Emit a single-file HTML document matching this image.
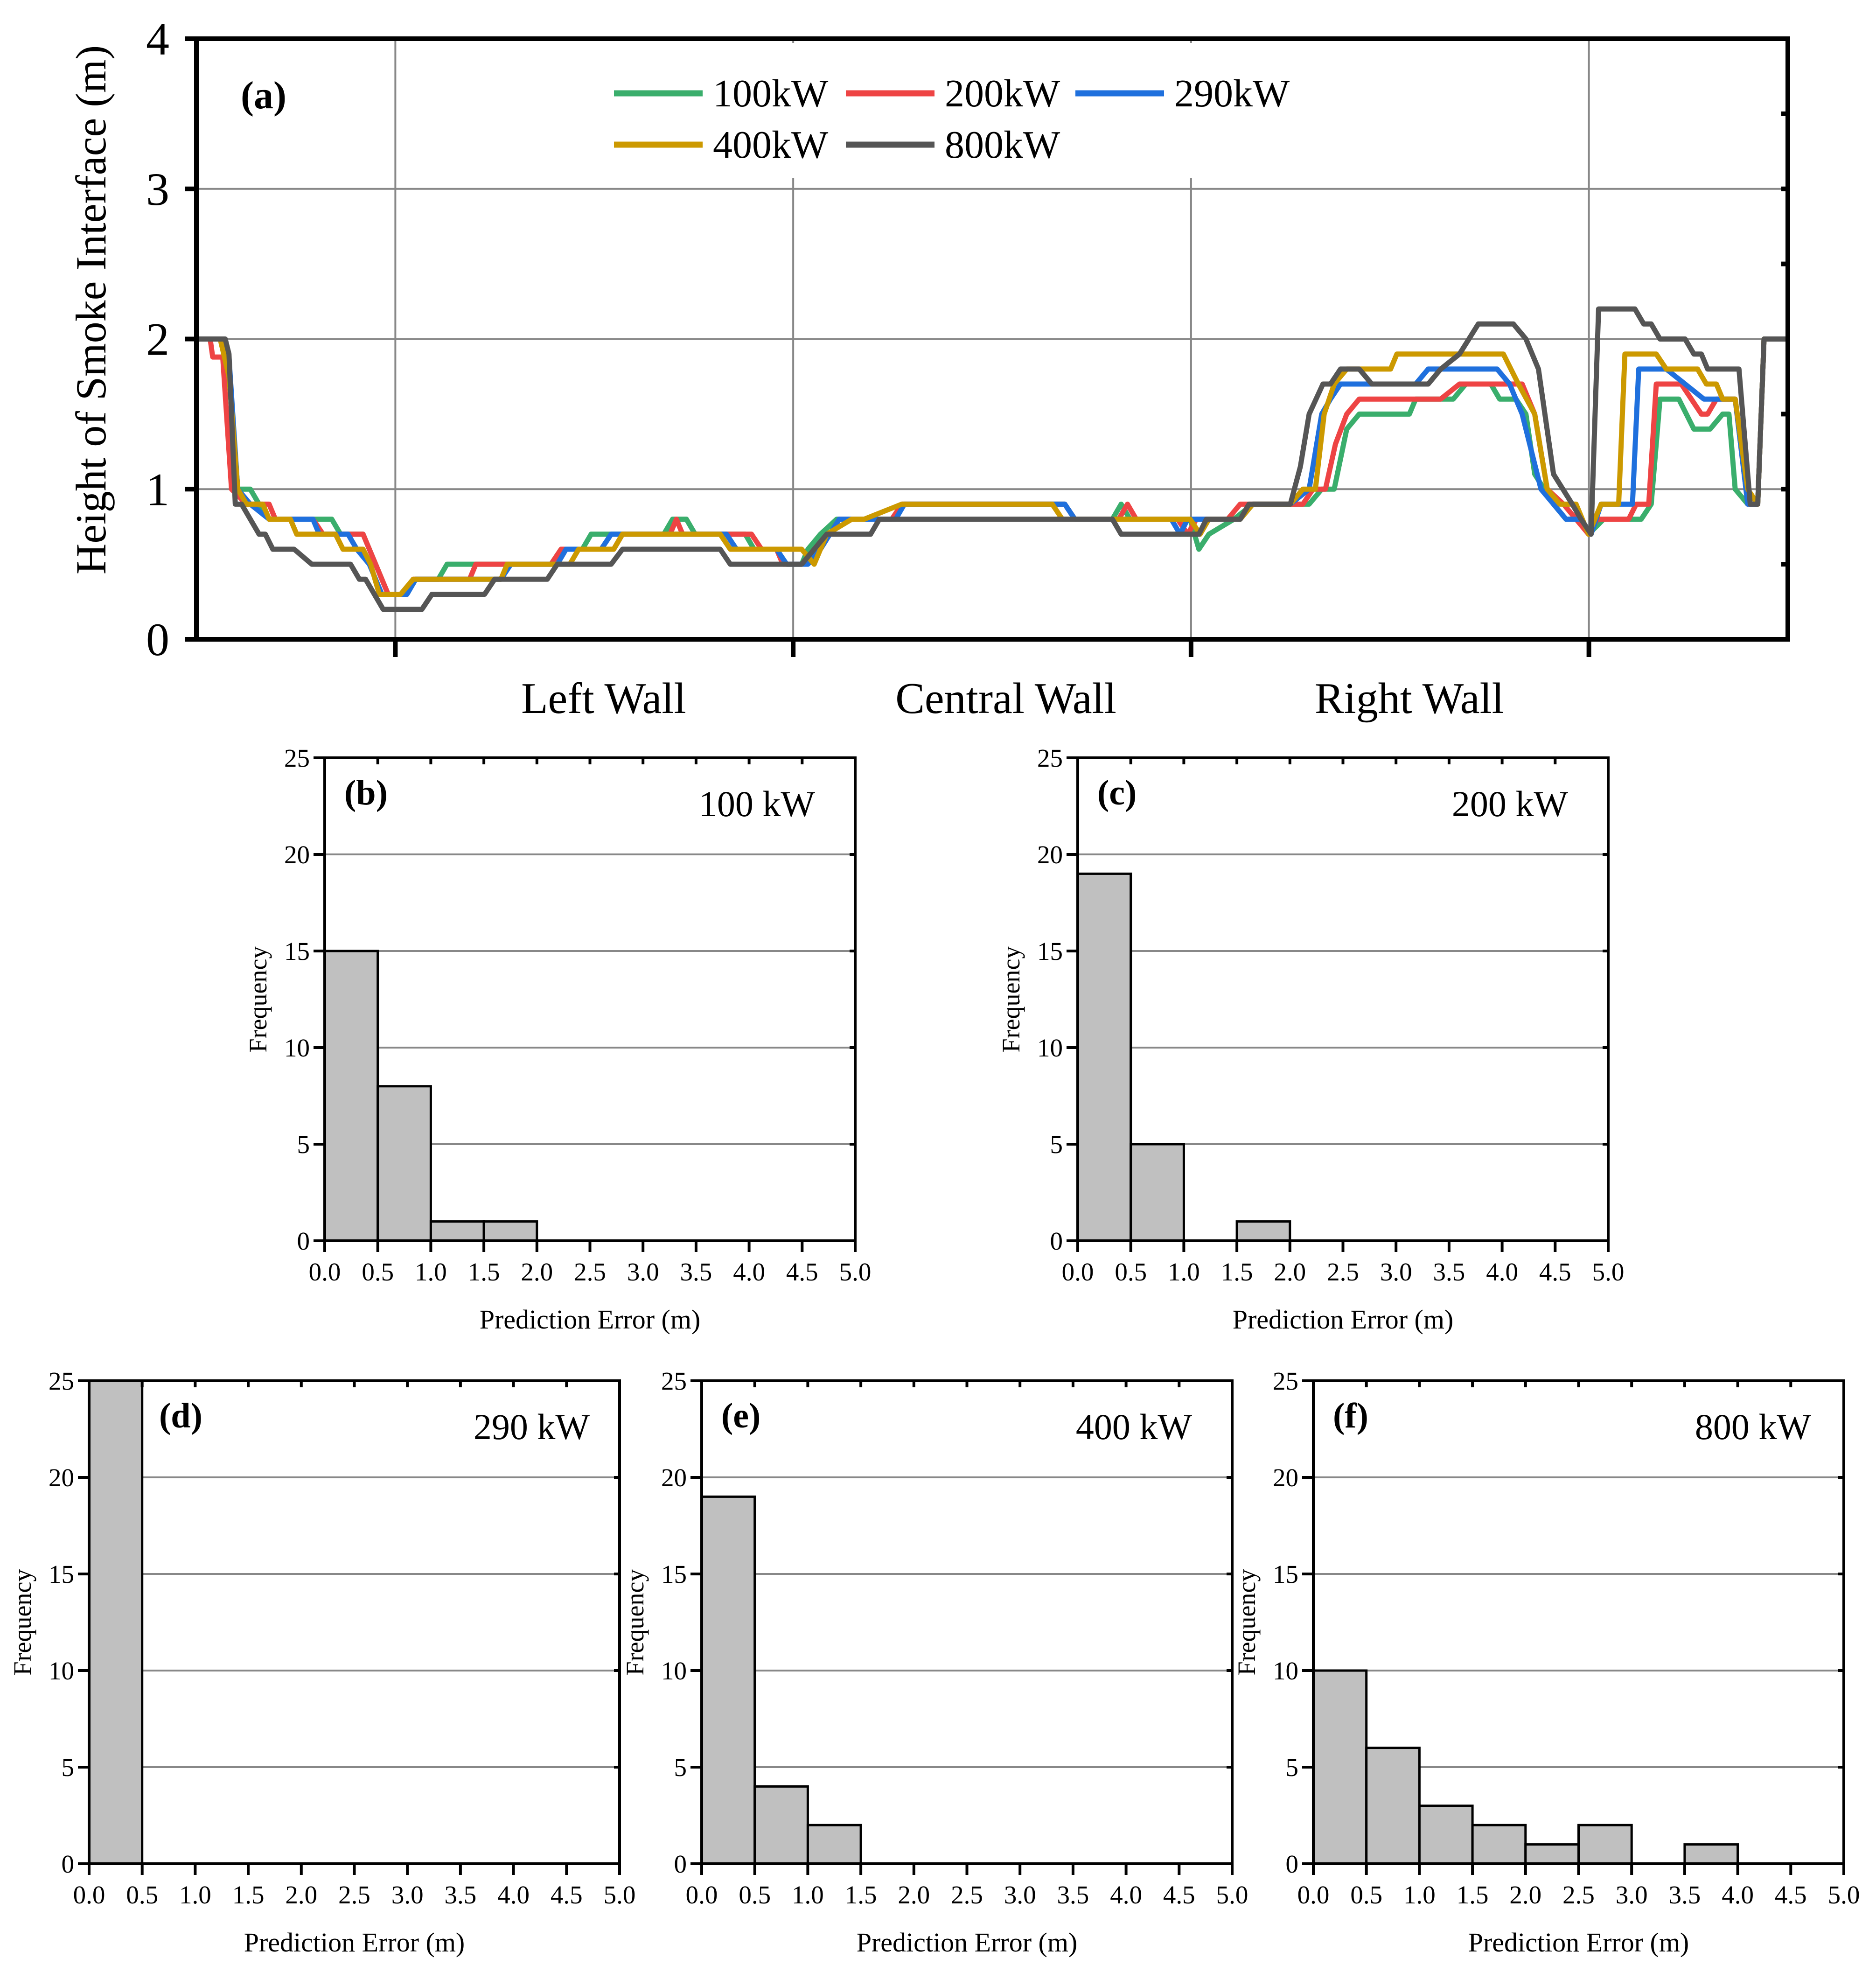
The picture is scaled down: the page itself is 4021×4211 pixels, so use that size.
<!DOCTYPE html>
<html><head><meta charset="utf-8">
<style>
html,body{margin:0;padding:0;background:#fff;}
svg{display:block;font-family:"Liberation Serif","Times New Roman",serif;}
</style></head>
<body>
<svg id="fig" width="4021" height="4211" viewBox="0 0 4021 4211" xmlns="http://www.w3.org/2000/svg">
<rect x="0" y="0" width="4021" height="4211" fill="#fff"/>
</svg>
<script>
// ---------- data: panel (a) ----------
// x = position along walls (arbitrary distance units, 0..1270), y = height (m)
const s100 = [[0,2],[19,2],[26,1.83],[33,1.0],[43,1.0],[50,0.9],[58,0.8],[108,0.8],[115,0.7],[133,0.7],[143,0.5],[153,0.3],[168,0.3],[175,0.4],[193,0.4],[200,0.5],[283,0.5],[291,0.6],[308,0.6],[315,0.7],[373,0.7],[380,0.8],[391,0.8],[398,0.7],[438,0.7],[445,0.6],[463,0.6],[471,0.5],[483,0.5],[488,0.6],[498,0.7],[511,0.8],[555,0.8],[563,0.9],[693,0.9],[701,0.8],[731,0.8],[738,0.9],[745,0.8],[793,0.8],[800,0.6],[808,0.7],[828,0.8],[843,0.9],[888,0.9],[898,1.0],[908,1.0],[918,1.4],[928,1.5],[968,1.5],[973,1.6],[1003,1.6],[1013,1.7],[1033,1.7],[1040,1.6],[1053,1.6],[1061,1.5],[1068,1.1],[1083,0.9],[1093,0.8],[1105,0.8],[1111,0.7],[1123,0.8],[1153,0.8],[1161,0.9],[1168,1.6],[1183,1.6],[1195,1.4],[1208,1.4],[1218,1.5],[1223,1.5],[1228,1.0],[1238,0.9],[1246,0.9],[1251,2.0],[1270,2.0]];
const s200 = [[0,2],[11,2],[13,1.88],[21,1.88],[28,1.0],[40,0.9],[58,0.9],[63,0.8],[93,0.8],[101,0.7],[133,0.7],[143,0.5],[153,0.3],[168,0.3],[173,0.4],[218,0.4],[223,0.5],[283,0.5],[291,0.6],[333,0.6],[340,0.7],[378,0.7],[383,0.8],[388,0.7],[443,0.7],[451,0.6],[463,0.6],[468,0.5],[483,0.5],[498,0.6],[513,0.8],[555,0.8],[563,0.9],[693,0.9],[701,0.8],[736,0.8],[743,0.9],[750,0.8],[783,0.8],[791,0.7],[798,0.8],[823,0.8],[833,0.9],[883,0.9],[891,1.0],[901,1.0],[909,1.3],[918,1.5],[928,1.6],[993,1.6],[1008,1.7],[1058,1.7],[1068,1.5],[1078,1.0],[1091,0.9],[1101,0.8],[1111,0.7],[1118,0.8],[1143,0.8],[1149,0.9],[1159,0.9],[1165,1.7],[1185,1.7],[1193,1.6],[1201,1.5],[1206,1.5],[1213,1.6],[1228,1.6],[1238,0.9],[1246,0.9],[1251,2.0],[1270,2.0]];
const s290 = [[0,2],[19,2],[26,1.88],[33,1.0],[43,0.9],[58,0.8],[93,0.8],[98,0.7],[121,0.7],[128,0.6],[138,0.5],[148,0.3],[168,0.3],[175,0.4],[243,0.4],[251,0.5],[288,0.5],[295,0.6],[323,0.6],[331,0.7],[423,0.7],[431,0.6],[463,0.6],[471,0.5],[488,0.5],[498,0.6],[513,0.8],[558,0.8],[565,0.9],[693,0.9],[701,0.8],[778,0.8],[785,0.7],[791,0.8],[833,0.8],[843,0.9],[873,0.9],[888,1.0],[898,1.5],[905,1.6],[913,1.7],[973,1.7],[983,1.8],[1038,1.8],[1048,1.7],[1058,1.5],[1073,1.0],[1083,0.9],[1093,0.8],[1105,0.8],[1113,0.7],[1121,0.9],[1146,0.9],[1151,1.8],[1173,1.8],[1188,1.7],[1203,1.6],[1228,1.6],[1238,0.9],[1246,0.9],[1251,2.0],[1270,2.0]];
const s400 = [[0,2],[19,2],[26,1.75],[33,1.0],[40,0.9],[53,0.9],[58,0.8],[75,0.8],[80,0.7],[111,0.7],[117,0.6],[133,0.6],[139,0.5],[146,0.3],[163,0.3],[173,0.4],[243,0.4],[248,0.5],[298,0.5],[305,0.6],[333,0.6],[340,0.7],[418,0.7],[426,0.6],[483,0.6],[493,0.5],[503,0.7],[523,0.8],[533,0.8],[563,0.9],[683,0.9],[691,0.8],[793,0.8],[801,0.7],[808,0.8],[833,0.8],[843,0.9],[873,0.9],[883,1.0],[893,1.0],[900,1.5],[908,1.7],[918,1.8],[953,1.8],[958,1.9],[1043,1.9],[1055,1.7],[1068,1.5],[1078,1.0],[1088,0.9],[1101,0.9],[1111,0.7],[1121,0.9],[1135,0.9],[1140,1.9],[1165,1.9],[1173,1.8],[1198,1.8],[1205,1.7],[1213,1.7],[1218,1.6],[1228,1.6],[1238,1.0],[1246,0.9],[1251,2.0],[1270,2.0]];
const s800 = [[0,2],[23,2],[26,1.9],[31,0.9],[36,0.9],[43,0.8],[50,0.7],[55,0.7],[61,0.6],[78,0.6],[92,0.5],[123,0.5],[130,0.4],[135,0.4],[149,0.2],[180,0.2],[188,0.3],[230,0.3],[238,0.4],[280,0.4],[288,0.5],[331,0.5],[340,0.6],[418,0.6],[426,0.5],[483,0.5],[493,0.6],[503,0.7],[538,0.7],[545,0.8],[731,0.8],[738,0.7],[800,0.7],[806,0.8],[833,0.8],[840,0.9],[873,0.9],[881,1.15],[888,1.5],[899,1.7],[905,1.7],[913,1.8],[928,1.8],[938,1.7],[983,1.7],[993,1.8],[1008,1.9],[1023,2.1],[1051,2.1],[1061,2.0],[1071,1.8],[1083,1.1],[1098,0.9],[1105,0.8],[1113,0.7],[1119,2.2],[1148,2.2],[1155,2.1],[1161,2.1],[1168,2.0],[1188,2.0],[1195,1.9],[1201,1.9],[1206,1.8],[1231,1.8],[1240,0.9],[1246,0.9],[1251,2.0],[1270,2.0]];
const seriesNames = ["100kW","200kW","290kW","400kW","800kW"];
const seriesColors = ["#3aae6c","#ee4444","#1f70dd","#cc9900","#555555"];
const wallLabels = ["Left Wall","Central Wall","Right Wall"];
const wallCenters = [325,646,968];
const yTicksA = [0,1,2,3,4];
const xGridA = [158.75,476.25,793.75,1111.25];

// ---------- data: histograms ----------
const binEdges = [0,0.5,1,1.5,2,2.5,3,3.5,4,4.5,5];
const xTickLabels = ["0.0","0.5","1.0","1.5","2.0","2.5","3.0","3.5","4.0","4.5","5.0"];
const yTicksH = [0,5,10,15,20,25];
const histB = [15,8,1,1,0,0,0,0,0,0];
const histC = [19,5,0,1,0,0,0,0,0,0];
const histD = [25,0,0,0,0,0,0,0,0,0];
const histE = [19,4,2,0,0,0,0,0,0,0];
const histF = [10,6,3,2,1,2,0,1,0,0];
const panelIds = ["(b)","(c)","(d)","(e)","(f)"];
const panelPowers = ["100 kW","200 kW","290 kW","400 kW","800 kW"];

const NS = "http://www.w3.org/2000/svg";
const svg = document.getElementById("fig");
function mk(tag, attrs, parent){
  const e = document.createElementNS(NS, tag);
  for (const k in attrs) e.setAttribute(k, attrs[k]);
  (parent||svg).appendChild(e);
  return e;
}

// ---------- panel (a) ----------
const A = {l:421, r:3832, t:83, b:1370, xmax:1270, ymax:4};
const ax = v => A.l + v/A.xmax*(A.r-A.l);
const ay = v => A.b - v/A.ymax*(A.b-A.t);
const gA = mk("g",{});


yTicksA.forEach(v=>{
  if(v>0 && v<4){
    const gl = mk("line",{x1:A.l,x2:A.r,y1:ay(v),y2:ay(v),stroke:"#888",'stroke-width':4},gA);
    
    
  }
  const t = mk("text",{x:A.l-58,y:ay(v)+34,'font-size':100,'text-anchor':'end'},gA);
  t.textContent = v;
  
  
  const tk = mk("line",{x1:A.l-25,x2:A.l,y1:ay(v),y2:ay(v),stroke:"#000",'stroke-width':10},gA);
  
  
});
[0.5,1,1.5,2,2.5,3,3.5].forEach(v=>{
  const tk = mk("line",{x1:A.r-14,x2:A.r,y1:ay(v),y2:ay(v),stroke:"#000",'stroke-width':10},gA);
  
  
});
xGridA.forEach(v=>{
  const gl = mk("line",{x1:ax(v),x2:ax(v),y1:A.t,y2:A.b,stroke:"#888",'stroke-width':4},gA);
  
  
  const tk = mk("line",{x1:ax(v),x2:ax(v),y1:A.b,y2:A.b+38,stroke:"#000",'stroke-width':10},gA);
  
  
});
const lbg = mk("rect",{x:1290,y:92,width:1500,height:290,fill:"#fff"},gA);


[s100,s200,s290,s400,s800].forEach((s,i)=>{
  const p = mk("polyline",{points:s.map(d=>ax(d[0]).toFixed(1)+","+ay(d[1]).toFixed(1)).join(" "),fill:"none",stroke:seriesColors[i],'stroke-width':11,'stroke-linejoin':'round'},gA);
  
  
});
const fA = mk("rect",{x:A.l,y:A.t,width:A.r-A.l,height:A.b-A.t,fill:"none",stroke:"#000",'stroke-width':10},gA);


const legPos = [[1316,200],[1813,200],[2305,200],[1316,310],[1813,310]];
seriesNames.forEach((n,i)=>{
  const g = mk("g",{},gA);
  
  
  const [lx,ly] = legPos[i];
  mk("line",{x1:lx,x2:lx+190,y1:ly,y2:ly,stroke:seriesColors[i],'stroke-width':13},g);
  const t = mk("text",{x:lx+212,y:ly+28,'font-size':84},g);
  t.textContent = n;
});
const la = mk("text",{x:516,y:232,'font-size':84,'font-weight':'bold'},gA);
la.textContent = "(a)";


const yt = mk("text",{x:0,y:0,'font-size':92,'text-anchor':'middle',transform:"translate(226,664) rotate(-90)"},gA);
yt.textContent = "Height of Smoke Interface (m)";


wallLabels.forEach((w,i)=>{
  const t = mk("text",{x:ax(wallCenters[i]),y:1528,'font-size':94,'text-anchor':'middle'},gA);
  t.textContent = w;
  
  
});

// ---------- histograms ----------
const panels = [
  {l:696,t:1624,data:histB,lab:42,pw:86},
  {l:2310,t:1624,data:histC,lab:42,pw:86},
  {l:191,t:2959,data:histD,lab:150,pw:64},
  {l:1504,t:2959,data:histE,lab:42,pw:86},
  {l:2815,t:2959,data:histF,lab:42,pw:70}
];
const W = 1137, H = 1035;
panels.forEach((P,pi)=>{
  const g = mk("g",{});
  
  
  const hx = v => P.l + v/5*W;
  const hy = v => P.t + H - v/25*H;
  yTicksH.forEach(v=>{
    if(v>0 && v<25){
      const gl = mk("line",{x1:P.l,x2:P.l+W,y1:hy(v),y2:hy(v),stroke:"#888",'stroke-width':4},g);
      
      
      mk("line",{x1:P.l+W-12,x2:P.l+W,y1:hy(v),y2:hy(v),stroke:"#000",'stroke-width':6},g);
    }
    const tk = mk("line",{x1:P.l-24,x2:P.l,y1:hy(v),y2:hy(v),stroke:"#000",'stroke-width':6},g);
    
    
    const t = mk("text",{x:P.l-32,y:hy(v)+19,'font-size':55,'text-anchor':'end'},g);
    t.textContent = v;
    
    
  });
  P.data.forEach((c,i)=>{
    if(c<=0) return;
    const b = mk("rect",{x:hx(binEdges[i]),y:hy(c),width:hx(binEdges[i+1])-hx(binEdges[i]),height:hy(0)-hy(c),fill:"#c0c0c0",stroke:"#000",'stroke-width':5},g);
    
    
  });
  binEdges.forEach((v,i)=>{
    const tk = mk("line",{x1:hx(v),x2:hx(v),y1:P.t+H,y2:P.t+H+24,stroke:"#000",'stroke-width':6},g);
    
    
    mk("line",{x1:hx(v),x2:hx(v),y1:P.t,y2:P.t+14,stroke:"#000",'stroke-width':6},g);
    const t = mk("text",{x:hx(v),y:P.t+H+85,'font-size':55,'text-anchor':'middle'},g);
    t.textContent = xTickLabels[i];
    
    
  });
  const f = mk("rect",{x:P.l,y:P.t,width:W,height:H,fill:"none",stroke:"#000",'stroke-width':6},g);
  
  
  const xt = mk("text",{x:P.l+W/2,y:P.t+H+188,'font-size':58,'text-anchor':'middle'},g);
  xt.textContent = "Prediction Error (m)";
  
  
  const ytt = mk("text",{x:0,y:0,'font-size':54,'text-anchor':'middle',transform:"translate("+(P.l-125)+","+(P.t+H/2)+") rotate(-90)"},g);
  ytt.textContent = "Frequency";
  
  
  const pl = mk("text",{x:P.l+P.lab,y:P.t+100,'font-size':76,'font-weight':'bold'},g);
  pl.textContent = panelIds[pi];
  
  
  const pw = mk("text",{x:P.l+W-P.pw,y:P.t+125,'font-size':78,'text-anchor':'end'},g);
  pw.textContent = panelPowers[pi];
  
  
});
</script>
</body></html>
